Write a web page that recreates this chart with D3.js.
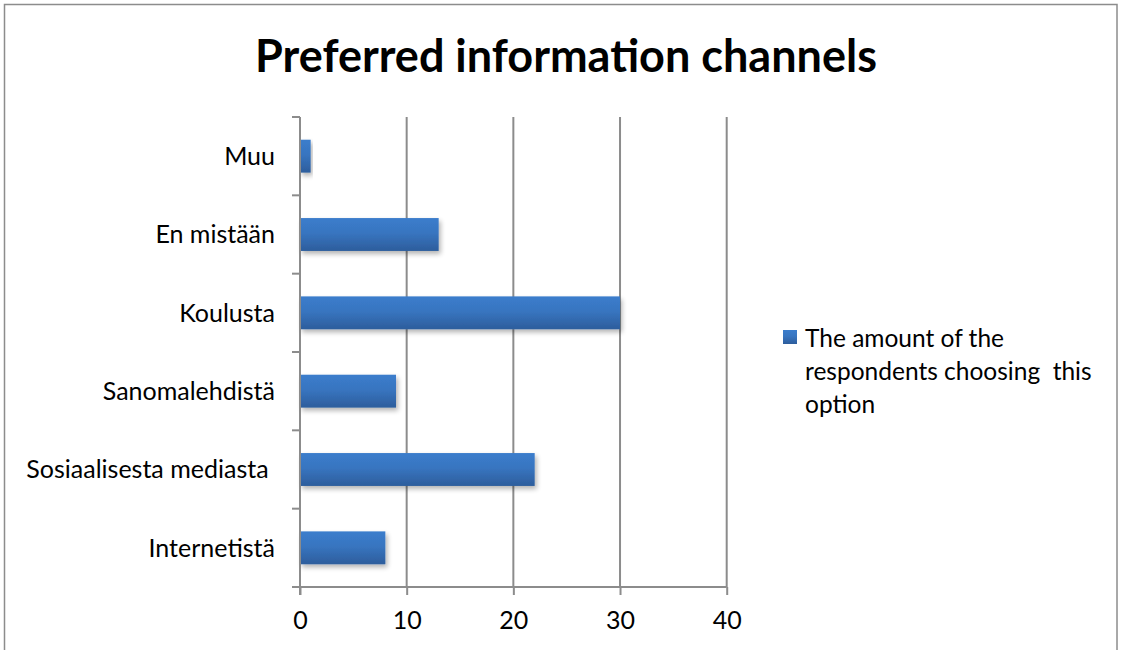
<!DOCTYPE html>
<html>
<head>
<meta charset="utf-8">
<script src="https://cdn.jsdelivr.net/npm/d3@7"></script>
<style>
  html, body { margin: 0; padding: 0; background: #fff; }
  svg { display: block; }
  text { font-family: Lato, "Open Sans", sans-serif; fill: #000; }
</style>
</head>
<body>
<svg id="chart" width="1122" height="650"></svg>
<script>
// Survey answers: where respondents prefer to get information
const categories = ["Muu", "En mistään", "Koulusta", "Sanomalehdistä", "Sosiaalisesta mediasta ", "Internetistä"];
const values = [1, 13, 30, 9, 22, 8];
const xTicks = [0, 10, 20, 30, 40];
const titleText = "Preferred information channels";
const legendLines = ["The amount of the", "respondents choosing  this", "option"];

const svg = d3.select("#chart");
const plot = { left: 300, right: 726.7, top: 117, bottom: 587 };

// outer frame
svg.append("rect")
  .attr("x", 4.5).attr("y", 4.5)
  .attr("width", 1112.5).attr("height", 660)
  .attr("fill", "#fff").attr("stroke", "#8c8c8c").attr("stroke-width", 1.5);

const defs = svg.append("defs");
const grad = defs.append("linearGradient").attr("id", "barGrad")
  .attr("x1", 0).attr("y1", 0).attr("x2", 0).attr("y2", 1);
grad.append("stop").attr("offset", "0%").attr("stop-color", "#3b7dcc");
grad.append("stop").attr("offset", "45%").attr("stop-color", "#3875c0");
grad.append("stop").attr("offset", "100%").attr("stop-color", "#2d5d9c");

const shadow = defs.append("filter").attr("id", "barShadow")
  .attr("x", "-10%").attr("y", "-30%").attr("width", "130%").attr("height", "180%");
shadow.append("feGaussianBlur").attr("in", "SourceAlpha").attr("stdDeviation", 2.5).attr("result", "b");
shadow.append("feOffset").attr("in", "b").attr("dx", 2).attr("dy", 3).attr("result", "o");
shadow.append("feComponentTransfer").attr("in", "o").attr("result", "s")
  .append("feFuncA").attr("type", "linear").attr("slope", 0.3);
const merge = shadow.append("feMerge");
merge.append("feMergeNode").attr("in", "s");
merge.append("feMergeNode").attr("in", "SourceGraphic");

const x = d3.scaleLinear().domain([0, 40]).range([plot.left, plot.right]);
const y = d3.scaleBand().domain(categories).range([plot.top, plot.bottom]).paddingInner(0.58).paddingOuter(0.29);

// title
svg.append("text")
  .attr("x", 566).attr("y", 72)
  .attr("text-anchor", "middle")
  .attr("font-size", 45).attr("font-weight", "bold")
  .text(titleText);

// vertical gridlines
svg.append("g").selectAll("line")
  .data(xTicks.filter(d => d > 0))
  .join("line")
  .attr("x1", d => x(d)).attr("x2", d => x(d))
  .attr("y1", plot.top).attr("y2", plot.bottom)
  .attr("stroke", "#8c8c8c").attr("stroke-width", 2);

// bars
svg.append("g").selectAll("rect")
  .data(categories.map((c, i) => ({ c, v: values[i] })))
  .join("rect")
  .attr("x", x(0))
  .attr("y", d => y(d.c))
  .attr("width", d => x(d.v) - x(0))
  .attr("height", y.bandwidth())
  .attr("fill", "url(#barGrad)")
  .attr("filter", "url(#barShadow)");

// category axis
const yAxis = svg.append("g")
  .attr("transform", `translate(${plot.left},0)`);
yAxis.append("line")
  .attr("x1", 0).attr("x2", 0).attr("y1", plot.top).attr("y2", plot.bottom + 8)
  .attr("stroke", "#8c8c8c").attr("stroke-width", 2);
const bounds = d3.range(categories.length + 1).map(i => plot.top + i * (plot.bottom - plot.top) / categories.length);
yAxis.selectAll("line.tick")
  .data(bounds)
  .join("line").attr("class", "tick")
  .attr("x1", -8).attr("x2", 0)
  .attr("y1", d => d).attr("y2", d => d)
  .attr("stroke", "#8c8c8c").attr("stroke-width", 2);
yAxis.selectAll("text")
  .data(categories)
  .join("text")
  .attr("x", -25)
  .attr("y", d => y(d) + y.bandwidth() / 2)
  .attr("dy", "0.35em")
  .attr("text-anchor", "end")
  .attr("font-size", 25)
  .style("white-space", "pre")
  .attr("xml:space", "preserve")
  .text(d => d);

// value axis
const xAxis = svg.append("g")
  .attr("transform", `translate(0,${plot.bottom})`)
  .call(d3.axisBottom(x).tickValues(xTicks).tickSize(8).tickPadding(16).tickFormat(d3.format("d")));
xAxis.select(".domain").attr("stroke", "#8c8c8c").attr("stroke-width", 2)
  .attr("d", `M${plot.left - 8},0H${plot.right}`);
xAxis.selectAll(".tick line").attr("stroke", "#8c8c8c").attr("stroke-width", 2);
xAxis.selectAll(".tick text")
  .attr("font-size", 25)
  .attr("font-family", "Lato, 'Open Sans', sans-serif")
  .attr("fill", "#000");

// legend
const legend = svg.append("g").attr("transform", "translate(783,330)");
legend.append("rect")
  .attr("x", 0).attr("y", 0).attr("width", 14).attr("height", 14)
  .attr("fill", "url(#barGrad)");
legend.selectAll("text")
  .data(legendLines)
  .join("text")
  .attr("x", 22)
  .attr("y", (d, i) => 17 + i * 33)
  .attr("font-size", 24.5)
  .attr("xml:space", "preserve")
  .style("white-space", "pre")
  .text(d => d);
</script>
</body>
</html>
